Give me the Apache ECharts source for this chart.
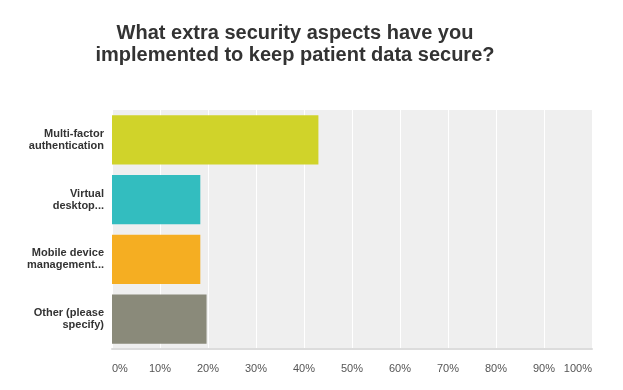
<!DOCTYPE html>
<html>
<head>
<meta charset="utf-8">
<script src="https://cdn.jsdelivr.net/npm/echarts@6/dist/echarts.min.js"></script>
<style>html,body{margin:0;padding:0;background:#fff;}#c{width:623px;height:390px;}</style>
</head>
<body>
<div id="c"></div>
<script>
const titleText = 'What extra security aspects have you\nimplemented to keep patient data secure?';
const categories = ['Multi-factor\nauthentication', 'Virtual\ndesktop...', 'Mobile device\nmanagement...', 'Other (please\nspecify)'];
const values = [43.0, 18.4, 18.4, 19.7];
const colors = ['#d0d32a', '#33bdbf', '#f5ae22', '#8a8a7a'];
const xTicks = [0, 10, 20, 30, 40, 50, 60, 70, 80, 90, 100];

const chart = echarts.init(document.getElementById('c'));
chart.setOption({
  animation: false,
  backgroundColor: '#ffffff',
  title: {
    text: titleText,
    left: 290, top: 17, textAlign: 'center',
    textStyle: { fontFamily: 'Liberation Sans, Arial', fontSize: 20, fontWeight: 'bold', color: '#333333', lineHeight: 22 }
  },
  grid: { left: 112, right: 31, top: 110, bottom: 41, show: true, backgroundColor: '#efefef', borderWidth: 0 },
  xAxis: {
    type: 'value', min: 0, max: 100, interval: 10,
    axisLine: { show: true, onZero: false, lineStyle: { color: '#dcdcdc', width: 2 } },
    axisTick: { show: false },
    splitLine: { show: true, lineStyle: { color: '#ffffff', width: 1 } },
    axisLabel: {
      formatter: v => xTicks.includes(v) ? v + '%' : '',
      color: '#555555', fontFamily: 'Liberation Sans, Arial', fontSize: 11, margin: 14,
      alignMinLabel: 'left', alignMaxLabel: 'right'
    }
  },
  yAxis: {
    type: 'category', data: categories, inverse: true,
    axisLine: { show: false },
    axisTick: { show: false },
    axisLabel: { color: '#333333', fontFamily: 'Liberation Sans, Arial', fontSize: 11, fontWeight: 'bold', lineHeight: 12, margin: 8 }
  },
  series: [{
    type: 'bar',
    data: values.map((v, i) => ({ value: v, itemStyle: { color: colors[i] } })),
    barCategoryGap: '17.5%'
  }]
});
</script>
</body>
</html>
